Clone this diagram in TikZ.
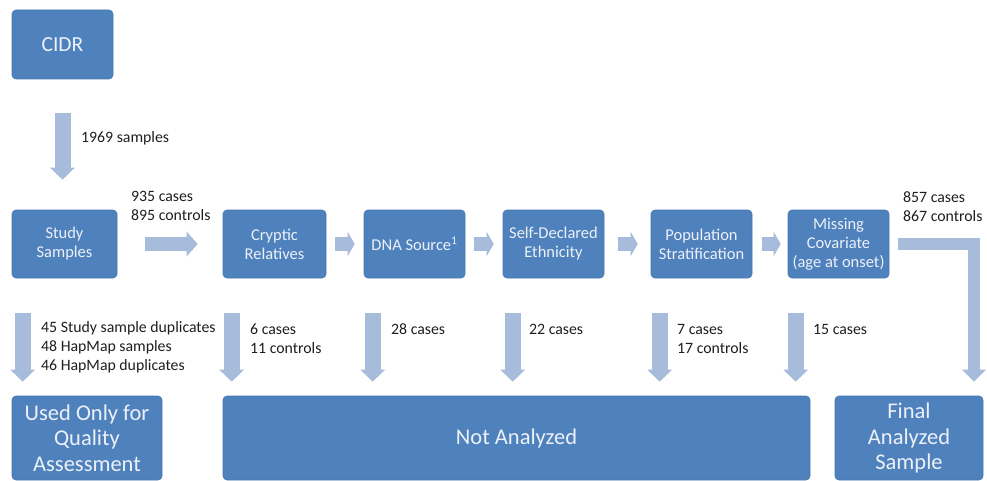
\documentclass[tikz,border=0pt]{standalone}
\usepackage{fontspec}
\setmainfont{Carlito}
\usetikzlibrary{arrows.meta}
\definecolor{boxblue}{RGB}{79,129,189}
\definecolor{boxedge}{RGB}{70,118,176}
\definecolor{boxtext}{RGB}{236,241,248}
\definecolor{arrowblue}{RGB}{167,187,219}
\definecolor{lbltext}{RGB}{30,30,30}
\newcommand\lblfont{\fontsize{15.8}{19}\selectfont}
\newcommand\stepfont{\fontsize{16.5}{19}\selectfont}
\newcommand\bigfont{\fontsize{22.5}{25.5}\selectfont}
\begin{document}
\begin{tikzpicture}[x=1pt,y=-1pt,
 box/.style={draw=boxedge, line width=0.6pt, fill=boxblue, rounded corners=4pt, text=boxtext, align=center, inner sep=0pt},
 stepbox/.style={box, minimum width=101pt, minimum height=68pt, font=\stepfont},
 endbox/.style={box, minimum height=84pt, font=\bigfont},
 lbl/.style={anchor=west, align=left, inner sep=0pt, text=lbltext, font=\lblfont},
 downarrow/.style={draw=arrowblue, line width=16pt, line cap=butt, -{Triangle[length=12pt,width=24pt]}, shorten <=35pt, shorten >=14pt},
 bigarrow/.style={draw=arrowblue, line width=14pt, line cap=butt, -{Triangle[length=11pt,width=24pt]}},
 smallarrow/.style={draw=arrowblue, line width=14pt, line cap=butt, -{Triangle[length=7pt,width=24pt]}},
 elbowarrow/.style={draw=arrowblue, line width=12pt, line cap=butt, line join=miter, -{Triangle[length=12pt,width=23pt]}, shorten <=9pt, shorten >=14pt}
]
\useasboundingbox (0,0) rectangle (987,481);

% top box
\node[box, minimum width=101pt, minimum height=69pt, font=\fontsize{21.5}{25}\selectfont] (cidr) at (62.5,44.5) {CIDR};

% step boxes
\node[stepbox, minimum width=105pt] (study) at (64.5,244) {Study\\Samples};
\node[stepbox, minimum width=103pt] (cryptic) at (274.5,244) {Cryptic\\Relatives};
\node[stepbox] (dna) at (414.5,244) {DNA Source\textsuperscript{1}};
\node[stepbox] (self) at (553.5,244) {Self-Declared\\Ethnicity};
\node[stepbox] (pop) at (701.5,244) {Population\\Stratification};
\node[stepbox] (miss) at (838.5,244) {Missing\\Covariate\\(age at onset)};

% bottom boxes
\node[endbox, minimum width=150pt] (qa) at (87,438) {Used Only for\\Quality\\Assessment};
\node[endbox, minimum width=587pt] (na) at (516.5,438) {Not Analyzed};
\node[endbox, minimum width=148pt] (final) at (909,438) {Final\\Analyzed\\Sample};

% arrows
\draw[downarrow, shorten <=34pt, shorten >=30pt] (cidr.south) -- (cidr.south |- study.north);
\draw[bigarrow, shorten <=28pt, shorten >=25pt] (study.east) -- (cryptic.west);
\draw[smallarrow, shorten <=9pt, shorten >=9pt] (cryptic.east) -- (dna.west);
\draw[smallarrow, shorten <=9pt, shorten >=9pt] (dna.east) -- (self.west);
\draw[smallarrow, shorten <=14pt, shorten >=13pt] (self.east) -- (pop.west);
\draw[smallarrow, shorten <=10pt, shorten >=7pt] (pop.east) -- (miss.west);

\draw[downarrow] ([xshift=11pt]study.south west) -- ([xshift=11pt]study.south west |- qa.north);
\draw[downarrow] ([xshift=9pt]cryptic.south west) -- ([xshift=9pt]cryptic.south west |- na.north);
\draw[downarrow] ([xshift=9pt]dna.south west) -- ([xshift=9pt]dna.south west |- na.north);
\draw[downarrow] ([xshift=10pt]self.south west) -- ([xshift=10pt]self.south west |- na.north);
\draw[downarrow] ([xshift=9pt]pop.south west) -- ([xshift=9pt]pop.south west |- na.north);
\draw[downarrow] ([xshift=8pt]miss.south west) -- ([xshift=8pt]miss.south west |- na.north);

\coordinate (bend) at (974,244);
\draw[elbowarrow] (miss.east) -- (bend) -- (bend |- final.north);

% labels
\node[lbl] (l1969) at (81,138) {1969 samples};
\node[lbl] (lstudy) at (131,206) {935 cases\\895 controls};
\node[lbl] (lfinal) at (903,207) {857 cases\\867 controls};
\node[lbl] (lqa) at (41,347.5) {45 Study sample duplicates\\48 HapMap samples\\46 HapMap duplicates};
\node[lbl] (lcry) at (250,338.5) {6 cases\\11 controls};
\node[lbl] (ldna) at (391,329) {28 cases};
\node[lbl] (lself) at (529,329) {22 cases};
\node[lbl] (lpop) at (677,338.5) {7 cases\\17 controls};
\node[lbl] (lmiss) at (813,329) {15 cases};
\end{tikzpicture}
\end{document}
